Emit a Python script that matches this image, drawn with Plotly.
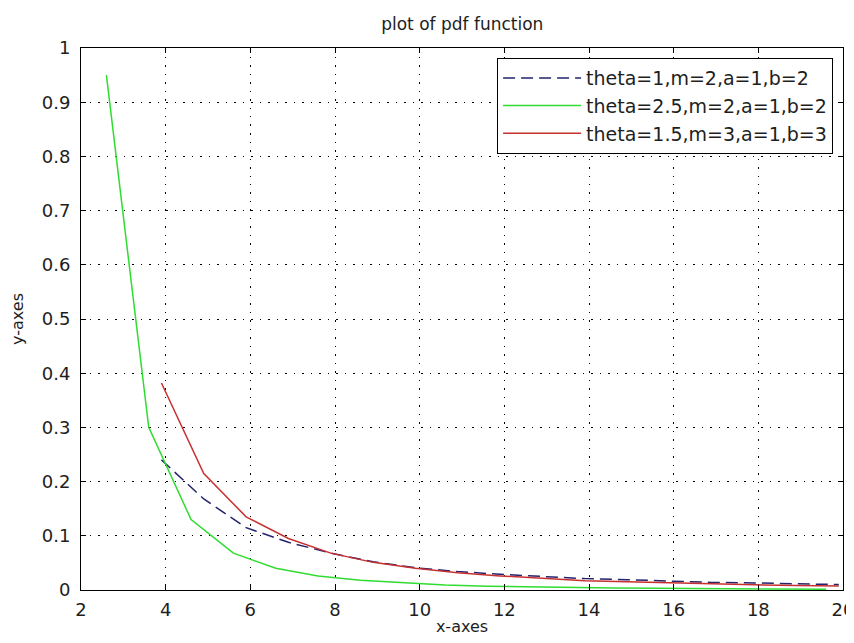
import plotly.graph_objects as go

# Sample positions
x_green = [2.6, 3.6, 4.6, 5.6, 6.6, 7.6, 8.6, 9.6, 10.6, 11.6, 12.6, 13.6, 14.6, 15.6, 16.6, 17.6, 18.6, 19.6]
x_other = [3.9, 4.9, 5.9, 6.9, 7.9, 8.9, 9.9, 10.9, 11.9, 12.9, 13.9, 14.9, 15.9, 16.9, 17.9, 18.9, 19.9]

# theta=1,m=2,a=1,b=2 (dashed)
y_blue = [0.24, 0.168, 0.115, 0.088, 0.068, 0.052, 0.041, 0.034, 0.029, 0.025, 0.021, 0.019, 0.016, 0.014, 0.013, 0.011, 0.010]
# theta=2.5,m=2,a=1,b=2
y_green = [0.95, 0.30, 0.13, 0.068, 0.040, 0.026, 0.018, 0.013, 0.009, 0.007, 0.0055, 0.0045, 0.0037, 0.003, 0.0025, 0.0021, 0.0018, 0.0015]
# theta=1.5,m=3,a=1,b=3
y_red = [0.382, 0.215, 0.135, 0.095, 0.068, 0.051, 0.040, 0.032, 0.026, 0.021, 0.017, 0.015, 0.013, 0.011, 0.0095, 0.0085, 0.0075]

names = ["theta=1,m=2,a=1,b=2", "theta=2.5,m=2,a=1,b=2", "theta=1.5,m=3,a=1,b=3"]

x_ticks = [2, 4, 6, 8, 10, 12, 14, 16, 18, 20]
y_ticks = [0, 0.1, 0.2, 0.3, 0.4, 0.5, 0.6, 0.7, 0.8, 0.9, 1]
y_tick_text = ["0", "0.1", "0.2", "0.3", "0.4", "0.5", "0.6", "0.7", "0.8", "0.9", "1"]

FONT = "DejaVu Sans, Verdana, sans-serif"
TXT = "#1e1e1e"

fig = go.Figure()
fig.add_trace(go.Scatter(x=x_other, y=y_blue, mode="lines", name=names[0],
                         line=dict(color="#23236e", width=1.5, dash="12px,6px")))
fig.add_trace(go.Scatter(x=x_green, y=y_green, mode="lines", name=names[1],
                         line=dict(color="#2fdc2f", width=1.5)))
fig.add_trace(go.Scatter(x=x_other, y=y_red, mode="lines", name=names[2],
                         line=dict(color="#c83030", width=1.5)))

axis_common = dict(
    showline=True, linecolor="black", linewidth=1, mirror="ticks",
    ticks="inside", ticklen=5, tickcolor="black",
    showgrid=True, gridcolor="black", gridwidth=1, griddash="1.5px,7px",
    zeroline=False, tickfont=dict(family=FONT, size=18, color=TXT),
    ticklabeloverflow="allow", automargin=False,
)

# The page body adds an 8px offset, so the figure is sized to fill the rest of the window
fig.update_layout(
    width=846, height=635,
    margin=dict(l=73, r=11, t=40, b=53),
    paper_bgcolor="white", plot_bgcolor="white",
    font=dict(family=FONT, color=TXT),
    title=dict(text="plot of pdf function", x=0.537, xanchor="center",
               y=1 - 16 / 635, yanchor="middle", font=dict(family=FONT, size=17, color=TXT)),
    xaxis=dict(range=[2, 20], tickvals=x_ticks, ticktext=[str(v) for v in x_ticks],
               title=dict(text="x-axes", font=dict(family=FONT, size=16, color=TXT), standoff=2),
               ticklabelstandoff=3, **axis_common),
    yaxis=dict(range=[0, 1], tickvals=y_ticks, ticktext=y_tick_text,
               title=dict(text="y-axes", font=dict(family=FONT, size=16, color=TXT), standoff=14),
               ticklabelstandoff=6, **axis_common),
    legend=dict(x=0.987, y=0.9815, xanchor="right", yanchor="top",
                bgcolor="white", bordercolor="black", borderwidth=1,
                font=dict(family=FONT, size=19, color=TXT),
                itemwidth=78, tracegroupgap=0),
    showlegend=True,
)

fig.write_html("out.html")
